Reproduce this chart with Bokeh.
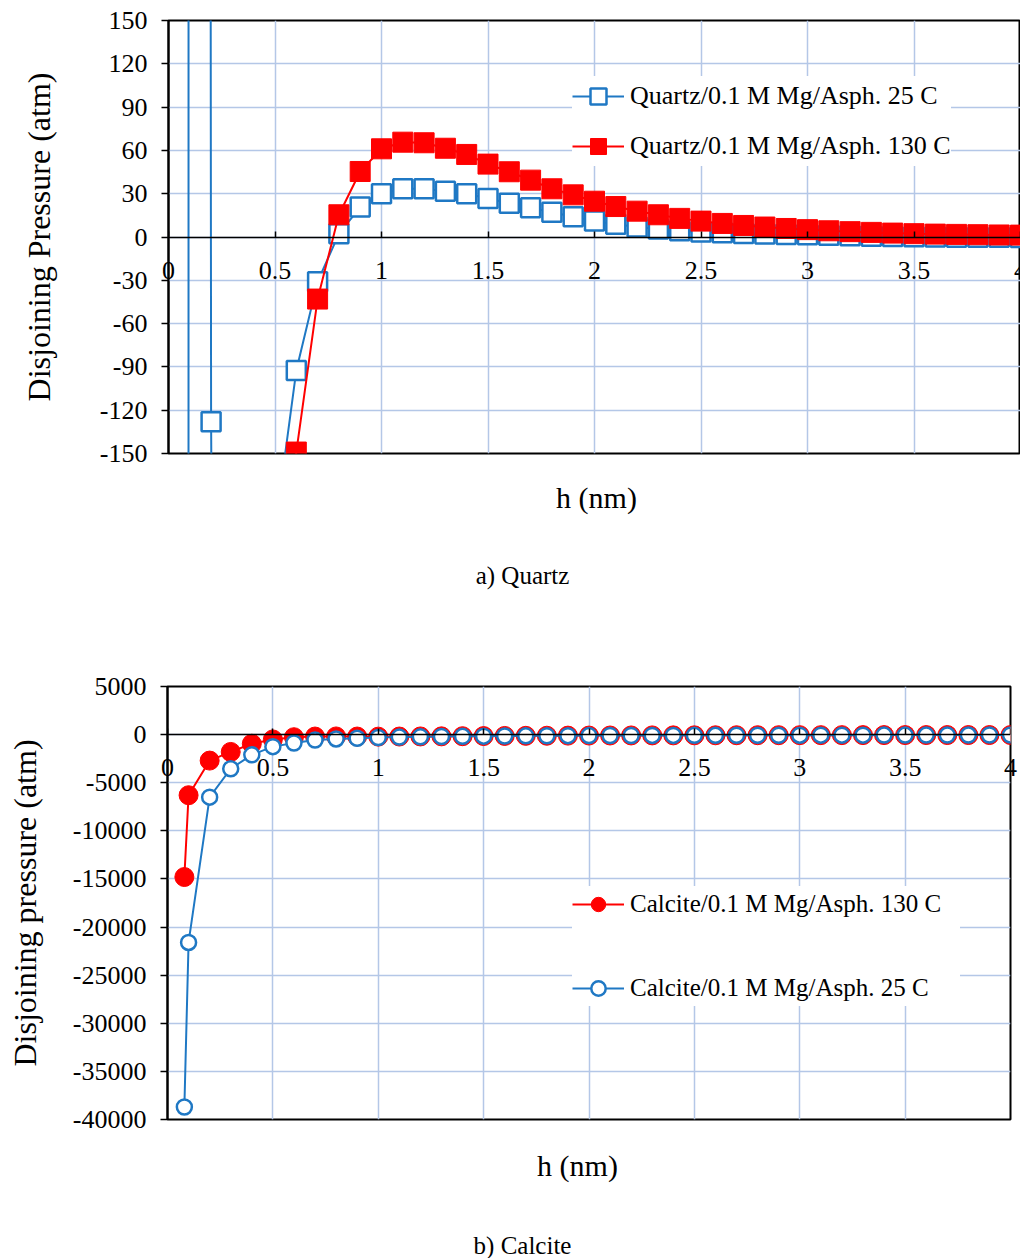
from bokeh.plotting import figure
from bokeh.models import (FixedTicker, Legend, LegendItem, Range1d, Label, LabelSet,
                          ColumnDataSource)
from bokeh.layouts import column
from bokeh.embed import file_html
from bokeh.resources import INLINE

FONT = "Liberation Serif"
BLUE = "#1F78C4"
RED = "#FF0000"
GRID = "#B4C7E7"

# ---------------- data ----------------
h = [0.08, 0.1, 0.2, 0.3, 0.4, 0.5, 0.6, 0.7, 0.8, 0.9, 1.0,
     1.1, 1.2, 1.3, 1.4, 1.5, 1.6, 1.7, 1.8, 1.9, 2.0,
     2.1, 2.2, 2.3, 2.4, 2.5, 2.6, 2.7, 2.8, 2.9, 3.0,
     3.1, 3.2, 3.3, 3.4, 3.5, 3.6, 3.7, 3.8, 3.9, 4.0]

quartz_25 = [-35000, 15000, -128, -2500, -700, -203, -92.5, -31, 2.2, 20.7, 29.9,
             33.4, 33.4, 31.7, 29.9, 26.7, 23.4, 20.2, 17.2, 14.0, 11.0,
             8.8, 7.0, 5.5, 4.4, 3.5, 2.9, 2.5, 2.1, 1.8, 1.5,
             1.2, 0.9, 0.6, 0.3, 0.1, 0.0, -0.1, -0.2, -0.2, -0.3]

quartz_130 = [-60000, -25000, -5000, -1500, -700, -330, -149, -43, 15.4, 45.4, 61.1,
              65.7, 65.3, 61.5, 57.2, 50.5, 45.2, 39.4, 33.4, 29.2, 24.8,
              21.1, 17.9, 15.4, 12.9, 11.0, 9.4, 8.0, 6.9, 5.9, 5.1,
              4.3, 3.7, 3.2, 2.7, 2.3, 2.0, 1.8, 1.6, 1.4, 1.3]

calcite_130 = [-14800, -6300, -2700, -1800, -950, -500, -270, -200, -190, -200, -210,
               -200, -190, -180, -165, -150, -138, -125, -115, -105, -97,
               -92, -87, -82, -78, -73, -70, -66, -63, -60, -58,
               -56, -54, -52, -50, -48, -47, -46, -45, -44, -43]

calcite_25 = [-38700, -21600, -6500, -3550, -2100, -1250, -870, -560, -450, -380, -300,
              -260, -230, -200, -180, -160, -145, -130, -120, -110, -100,
              -95, -90, -85, -80, -75, -72, -68, -65, -62, -60,
              -58, -56, -54, -52, -50, -48, -47, -46, -45, -44]

x_ticks = [0, 0.5, 1, 1.5, 2, 2.5, 3, 3.5, 4]
x_tick_labels = ["0", "0.5", "1", "1.5", "2", "2.5", "3", "3.5", "4"]

quartz_y_ticks = [-150, -120, -90, -60, -30, 0, 30, 60, 90, 120, 150]
quartz_y_labels = ["-150", "-120", "-90", "-60", "-30", "0", "30", "60", "90", "120", "150"]

calcite_y_ticks = [-40000, -35000, -30000, -25000, -20000, -15000, -10000, -5000, 0, 5000]
calcite_y_labels = ["-40000", "-35000", "-30000", "-25000", "-20000", "-15000",
                    "-10000", "-5000", "0", "5000"]

labels_quartz = ["Quartz/0.1 M Mg/Asph. 25 C", "Quartz/0.1 M Mg/Asph. 130 C"]
labels_calcite = ["Calcite/0.1 M Mg/Asph. 130 C", "Calcite/0.1 M Mg/Asph. 25 C"]

TICK_STYLE = dict(text_align="center", text_baseline="middle", text_font=FONT,
                  text_font_size="26px", text_color="black")


def style(p, y_ticks, y_labels, ylabel, ylabel_standoff, edge_idx):
    p.outline_line_color = "black"
    p.outline_line_width = 2
    p.background_fill_color = "white"
    p.border_fill_color = "white"

    xa = p.xaxis[0]
    xa.fixed_location = 0
    xa.ticker = FixedTicker(ticks=x_ticks)
    xa.major_label_overrides = {t: "" for t in x_ticks}
    xa.minor_tick_line_color = None
    xa.major_tick_in = 6
    xa.major_tick_out = 0
    xa.axis_line_color = "black"
    xa.axis_line_width = 1.5
    xa.major_tick_line_width = 1.5

    # x tick labels: inner ones inside the frame, edge ones in the side panel (unclipped)
    inner = [i for i in range(len(x_ticks)) if i not in edge_idx]
    src = ColumnDataSource(data=dict(x=[x_ticks[i] for i in inner],
                                     y=[0] * len(inner),
                                     text=[x_tick_labels[i] for i in inner]))
    p.add_layout(LabelSet(x="x", y="y", text="text", source=src, y_offset=-33, **TICK_STYLE))
    for i in edge_idx:
        p.add_layout(Label(x=x_ticks[i], y=0, y_offset=-33, text=x_tick_labels[i],
                           **TICK_STYLE), "below")

    ya = p.yaxis[0]
    ya.ticker = FixedTicker(ticks=y_ticks)
    ya.major_label_overrides = dict(zip(y_ticks, y_labels))
    ya.minor_tick_line_color = None
    ya.major_tick_in = 0
    ya.major_tick_out = 7
    ya.axis_line_color = "black"
    ya.axis_line_width = 2
    ya.major_tick_line_width = 1.5
    ya.major_label_text_font = FONT
    ya.major_label_text_font_size = "26px"
    ya.major_label_text_color = "black"
    ya.major_label_standoff = 14
    ya.axis_label = ylabel
    ya.axis_label_text_font = FONT
    ya.axis_label_text_font_size = "32px"
    ya.axis_label_text_font_style = "normal"
    ya.axis_label_text_color = "black"
    ya.axis_label_standoff = ylabel_standoff

    p.xgrid.ticker = FixedTicker(ticks=x_ticks)
    p.ygrid.ticker = FixedTicker(ticks=y_ticks)
    for g in (p.xgrid[0], p.ygrid[0]):
        g.grid_line_color = GRID
        g.grid_line_width = 1.5


def add_texts(p, y0, hx, hy, cx, cy, caption):
    p.add_layout(Label(x=0, y=y0, x_offset=hx, y_offset=-hy, text="h (nm)",
                       text_align="center", text_baseline="middle", text_font=FONT,
                       text_font_size="30px", text_color="black"), "below")
    p.add_layout(Label(x=0, y=y0, x_offset=cx, y_offset=-cy, text=caption,
                       text_align="center", text_baseline="middle", text_font=FONT,
                       text_font_size="25px", text_color="black"), "below")


# ---------------- a) Quartz ----------------
p1 = figure(width=1020, height=630, output_backend="svg", toolbar_location=None,
            x_range=Range1d(0, 4), y_range=Range1d(-150, 150),
            min_border_left=168, min_border_right=0, min_border_top=20,
            min_border_bottom=177)
p1.frame_align = False
style(p1, quartz_y_ticks, quartz_y_labels, "Disjoining Pressure (atm)", 40, [0])

b_line = p1.line(h, quartz_25, line_color=BLUE, line_width=2)
b_sc = p1.scatter(h, quartz_25, marker="square", size=19, fill_color="white",
                  line_color=BLUE, line_width=2.5)
r_line = p1.line(h, quartz_130, line_color=RED, line_width=2)
r_sc = p1.scatter(h, quartz_130, marker="square", size=20, fill_color=RED,
                  line_color=RED, line_width=1)

leg1 = Legend(items=[LegendItem(label=labels_quartz[0], renderers=[b_line, b_sc]),
                     LegendItem(label=labels_quartz[1], renderers=[r_line, r_sc])],
              location=(404, 287), label_text_font=FONT, label_text_font_size="26px",
              label_text_color="black", glyph_width=52, glyph_height=40,
              label_height=40, spacing=10, padding=6, margin=0, label_standoff=6,
              border_line_color=None, background_fill_color="white",
              background_fill_alpha=1.0)
p1.add_layout(leg1)
add_texts(p1, -150, 428, 44, 354, 122, "a) Quartz")

# ---------------- b) Calcite ----------------
p2 = figure(width=1020, height=628, output_backend="svg", toolbar_location=None,
            x_range=Range1d(0, 4), y_range=Range1d(-40000, 5000),
            min_border_left=167, min_border_right=10, min_border_top=56,
            min_border_bottom=139)
p2.frame_align = False
style(p2, calcite_y_ticks, calcite_y_labels, "Disjoining pressure (atm)", 27,
      [0, len(x_ticks) - 1])

r2_line = p2.line(h, calcite_130, line_color=RED, line_width=2)
r2_sc = p2.scatter(h, calcite_130, marker="circle", size=19, fill_color=RED,
                   line_color=RED, line_width=1)
b2_line = p2.line(h, calcite_25, line_color=BLUE, line_width=2)
b2_sc = p2.scatter(h, calcite_25, marker="circle", size=15, fill_color="white",
                   line_color=BLUE, line_width=2.5)

leg2 = Legend(items=[LegendItem(label=labels_calcite[0], renderers=[r2_line, r2_sc]),
                     LegendItem(label=labels_calcite[1], renderers=[b2_line, b2_sc])],
              location=(405, 113), label_text_font=FONT, label_text_font_size="25px",
              label_text_color="black", glyph_width=52, glyph_height=36,
              label_height=36, label_width=330, spacing=48, padding=30, margin=0,
              label_standoff=6, border_line_color=None, background_fill_color="white",
              background_fill_alpha=1.0)
p2.add_layout(leg2)
add_texts(p2, -40000, 410, 46, 355, 126, "b) Calcite")

layout = column(p1, p2, spacing=0)
open("out.html", "w").write(file_html(layout, INLINE))
